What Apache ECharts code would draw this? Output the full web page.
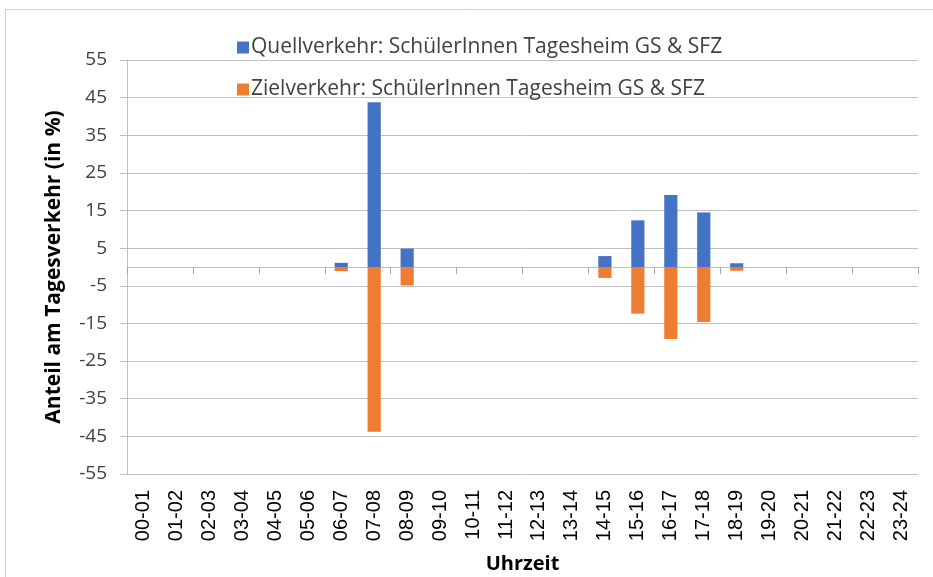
<!DOCTYPE html>
<html>
<head>
<meta charset="utf-8">
<script src="https://cdn.jsdelivr.net/npm/echarts@6/dist/echarts.min.js"></script>
<style>
html,body{margin:0;padding:0;background:#fff;}
#chart{width:933px;height:577px;}
</style>
</head>
<body>
<div id="chart"></div>
<script>
var hours = ['00-01','01-02','02-03','03-04','04-05','05-06','06-07','07-08','08-09','09-10','10-11','11-12',
    '12-13','13-14','14-15','15-16','16-17','17-18','18-19','19-20','20-21','21-22','22-23','23-24'];
// Quellverkehr (positiv), Zielverkehr (negativ)
var quell = [0,0,0,0,0,0,1.1,43.8,4.9,0,0,0,0,0,2.9,12.4,19.1,14.5,1.0,0,0,0,0,0];
var ziel  = [0,0,0,0,0,0,-1.1,-43.8,-4.9,0,0,0,0,0,-2.9,-12.4,-19.1,-14.6,-1.0,0,0,0,0,0];
var nameQuell = 'Quellverkehr: SchülerInnen Tagesheim GS & SFZ';
var nameZiel = 'Zielverkehr: SchülerInnen Tagesheim GS & SFZ';

var myChart = echarts.init(document.getElementById('chart'));
var font = 'Open Sans';

option = {
    animation: false,
    graphic: [{
        type: 'rect',
        shape: {x: 5.5, y: 9.5, width: 940, height: 580},
        style: {fill: 'none', stroke: '#d0d0d0', lineWidth: 1}
    }],
    legend: {
        orient: 'vertical',
        left: 232,
        top: 32,
        itemWidth: 12,
        itemHeight: 12,
        itemGap: 21,
        selectedMode: false,
        icon: 'rect',
        textStyle: {color: '#404040', fontSize: 21, fontFamily: font, padding: [0,0,0,-3]},
        data: [nameQuell, nameZiel]
    },
    grid: {left: 127, right: 15, top: 60, bottom: 103, outerBoundsMode: 'none', containLabel: false},
    xAxis: [{
        type: 'category',
        data: hours,
        position: 'bottom',
        axisLine: {onZero: true, lineStyle: {color: '#bfbfbf', width: 1}},
        axisTick: {show: true, length: 7, lineStyle: {color: '#a6a6a6'}},
        axisLabel: {show: false},
        splitLine: {show: false}
    }, {
        type: 'category',
        data: hours,
        position: 'bottom',
        offset: 0,
        axisLine: {show: false, onZero: false},
        axisTick: {show: false},
        axisLabel: {
            rotate: 90, margin: 16, interval: 0,
            color: '#000', fontSize: 20, fontFamily: 'Liberation Sans'
        },
        name: 'Uhrzeit',
        nameLocation: 'middle',
        nameGap: 80,
        nameTextStyle: {fontWeight: 'bold', fontSize: 20, color: '#000', fontFamily: font}
    }],
    yAxis: {
        type: 'value',
        min: -55,
        max: 55,
        interval: 10,
        name: 'Anteil am Tagesverkehr (in %)',
        nameLocation: 'middle',
        nameGap: 62,
        nameTextStyle: {fontWeight: 'bold', fontSize: 21, color: '#000', fontFamily: font},
        axisLine: {show: true, lineStyle: {color: '#bfbfbf'}},
        axisTick: {show: true, length: 7, lineStyle: {color: '#bfbfbf'}},
        axisLabel: {color: '#404040', fontSize: 19, fontFamily: font, margin: 20},
        splitLine: {lineStyle: {color: '#bfbfbf', width: 1}}
    },
    series: [{
        name: nameQuell,
        type: 'bar',
        stack: 'v',
        barWidth: '40%',
        itemStyle: {color: '#4472c4'},
        data: quell
    }, {
        name: nameZiel,
        type: 'bar',
        stack: 'v',
        barWidth: '40%',
        itemStyle: {color: '#ed7d31'},
        data: ziel
    }]
};
myChart.setOption(option);
</script>
</body>
</html>
